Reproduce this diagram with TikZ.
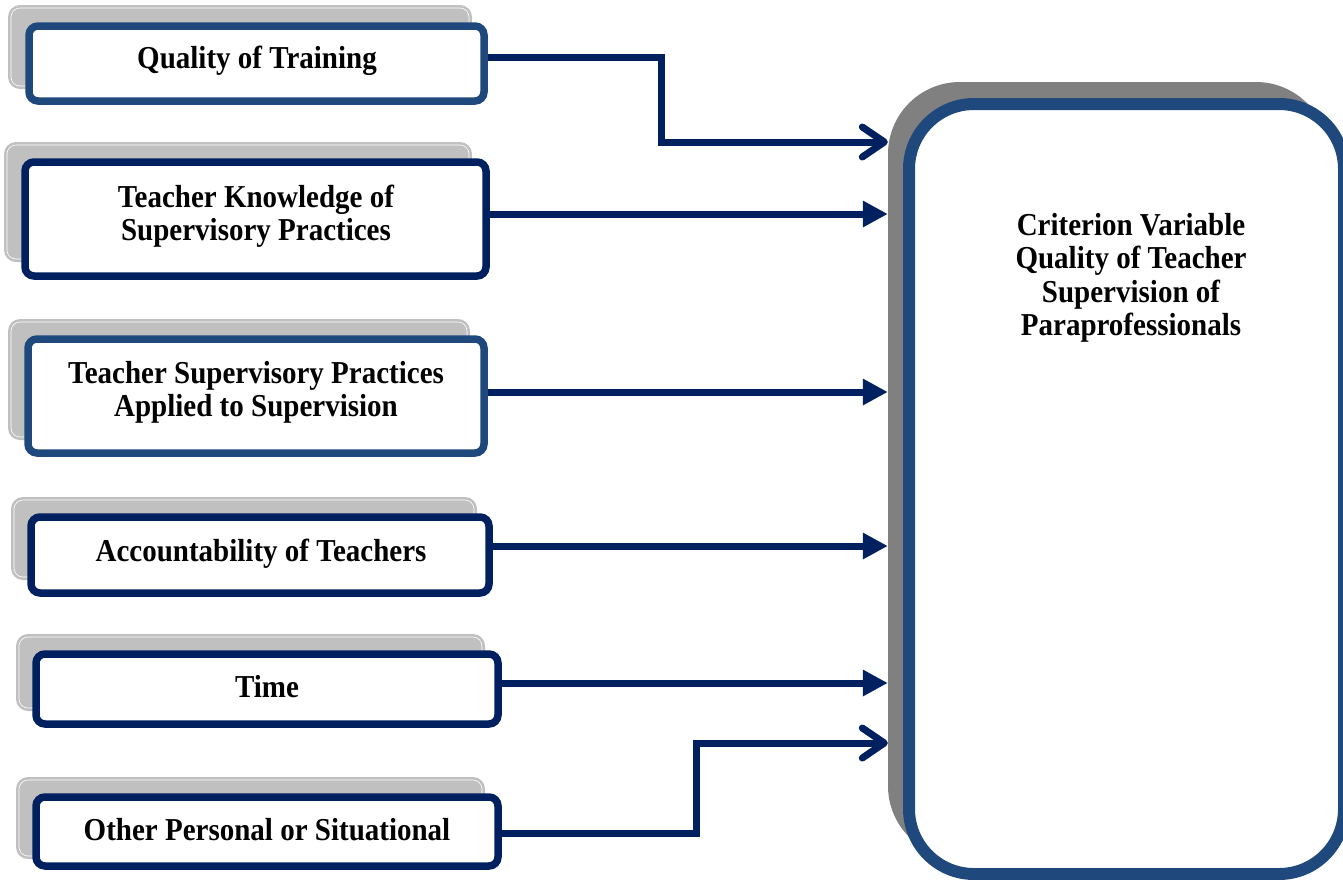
\documentclass[tikz,border=0pt]{standalone}
\usepackage{fontspec}
\setmainfont{Liberation Serif}
\usetikzlibrary{arrows.meta,calc}
\definecolor{steel}{HTML}{1F497D}
\definecolor{navy}{HTML}{002060}
\definecolor{lgray}{HTML}{C0C0C0}
\definecolor{dgray}{HTML}{808080}
\newcommand{\lbl}[1]{\scalebox{1}[1.1]{\begin{tabular}[t]{@{}c@{}}#1\end{tabular}}}
\begin{document}
\begin{tikzpicture}[x=1pt,y=-1pt,
  shadowbox/.style={fill=lgray, rounded corners=12pt},
  shadowline/.style={draw=white, line width=0.6pt, rounded corners=9pt},
  frontbox/.style={rectangle, draw=#1, fill=white, line width=7.5pt, rounded corners=9pt, inner sep=0pt},
  lbltext/.style={font=\fontsize{29}{30.5}\selectfont\bfseries, inner sep=0pt, anchor=base},
  conn/.style={draw=navy, line width=7pt},
  tri/.style={-{Triangle[length=25pt,width=25pt]}},
  barb/.style={-{Straight Barb[length=22pt,width=30pt,round]}},
]
\useasboundingbox (0,0) rectangle (1343,879);

% shadows of small boxes
\fill[shadowbox] (8,5) rectangle (472,89);
\draw[shadowline] (11,8) rectangle (469,86);
\fill[shadowbox] (4,142) rectangle (472,262);
\draw[shadowline] (7,145) rectangle (469,259);
\fill[shadowbox] (8,319) rectangle (470,440);
\draw[shadowline] (11,322) rectangle (467,437);
\fill[shadowbox] (11,497) rectangle (477,580);
\draw[shadowline] (14,500) rectangle (474,577);
\fill[shadowbox] (16,634) rectangle (485,711);
\draw[shadowline] (19,637) rectangle (482,708);
\fill[shadowbox] (16,777) rectangle (485,859);
\draw[shadowline] (19,780) rectangle (482,856);

% front boxes
\node[frontbox=steel, minimum width=455pt, minimum height=75pt] (b1) at (256.5,63.5) {};
\node[frontbox=navy, minimum width=461pt, minimum height=114pt] (b2) at (255.5,219) {};
\node[frontbox=steel, minimum width=456pt, minimum height=114pt] (b3) at (256,396) {};
\node[frontbox=navy, minimum width=458pt, minimum height=76pt] (b4) at (260,555) {};
\node[frontbox=navy, minimum width=462pt, minimum height=70pt] (b5) at (267,689) {};
\node[frontbox=navy, minimum width=462pt, minimum height=69pt] (b6) at (267,831.5) {};

% labels
\node[lbltext] (t1) at (257,68) {\lbl{Quality of Training}};
\node[lbltext] (t2) at (256,207) {\lbl{Teacher Knowledge of\\Supervisory Practices}};
\node[lbltext] (t3) at (256,383) {\lbl{Teacher Supervisory Practices\\Applied to Supervision}};
\node[lbltext] (t4) at (261,561) {\lbl{Accountability of Teachers}};
\node[lbltext] (t5) at (267,697) {\lbl{Time}};
\node[lbltext] (t6) at (267,840) {\lbl{Other Personal or Situational}};

% criterion box
\node[rectangle, fill=dgray, rounded corners=72pt, minimum width=440pt, minimum height=776pt, inner sep=0pt] (cs) at (1108,470) {};
\node[frontbox=steel, line width=12pt, rounded corners=65pt, minimum width=435pt, minimum height=770pt] (crit) at (1126.5,489) {};
\node[lbltext] (ct) at (1131,235) {\lbl{Criterion Variable\\Quality of Teacher\\Supervision of\\Paraprofessionals}};

% connector coordinates
\coordinate (s1) at (0,57);
\coordinate (k1) at (661,142);
\coordinate (a1) at (cs.west |- 0,142);
\coordinate (a2) at (cs.west |- 0,214);
\coordinate (a3) at (cs.west |- 0,392);
\coordinate (a4) at (cs.west |- 0,546);
\coordinate (a5) at (cs.west |- 0,683);
\coordinate (s6) at (0,833);
\coordinate (k6) at (696,743);
\coordinate (a6) at (cs.west |- 0,743);

% connectors
\draw[conn, barb] (b1.east |- s1) -| (k1) -- (a1);
\draw[conn, tri] (b2.east |- a2) -- (a2);
\draw[conn, tri] (b3.east |- a3) -- (a3);
\draw[conn, tri] (b4.east |- a4) -- (a4);
\draw[conn, tri] (b5.east |- a5) -- (a5);
\draw[conn, barb] (b6.east |- s6) -| (k6) -- (a6);
\end{tikzpicture}
\end{document}
